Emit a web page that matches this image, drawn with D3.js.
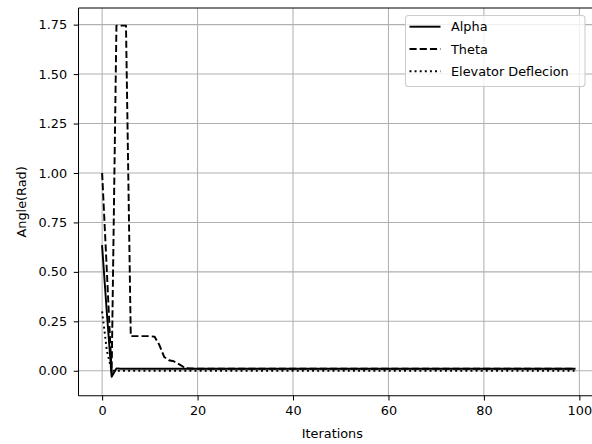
<!DOCTYPE html>
<html>
<head>
<meta charset="utf-8">
<script src="https://cdn.jsdelivr.net/npm/d3@7"></script>
<style>
  html, body { margin: 0; padding: 0; background: #fff; }
  svg { display: block; font-family: "DejaVu Sans", sans-serif; }
</style>
</head>
<body>
<svg id="chart" width="592" height="444"></svg>
<script>
// Angle of attack over the iterations
const alpha = [
  0.63, 0.29, -0.03, 0.012, 0.01, 0.01, 0.01, 0.01, 0.01, 0.01,
  0.01, 0.01, 0.01, 0.01, 0.01, 0.01, 0.01, 0.01, 0.01, 0.01,
  0.01, 0.01, 0.01, 0.01, 0.01, 0.01, 0.01, 0.01, 0.01, 0.01,
  0.01, 0.01, 0.01, 0.01, 0.01, 0.01, 0.01, 0.01, 0.01, 0.01,
  0.01, 0.01, 0.01, 0.01, 0.01, 0.01, 0.01, 0.01, 0.01, 0.01,
  0.01, 0.01, 0.01, 0.01, 0.01, 0.01, 0.01, 0.01, 0.01, 0.01,
  0.01, 0.01, 0.01, 0.01, 0.01, 0.01, 0.01, 0.01, 0.01, 0.01,
  0.01, 0.01, 0.01, 0.01, 0.01, 0.01, 0.01, 0.01, 0.01, 0.01,
  0.01, 0.01, 0.01, 0.01, 0.01, 0.01, 0.01, 0.01, 0.01, 0.01,
  0.01, 0.01, 0.01, 0.01, 0.01, 0.01, 0.01, 0.01, 0.01, 0.01
];

// Pitch angle over the iterations
const theta = [
  1.0, 0.5, -0.01, 1.745, 1.745, 1.745, 0.175, 0.175, 0.175, 0.175,
  0.175, 0.172, 0.13, 0.07, 0.053, 0.048, 0.035, 0.02, 0.013, 0.011,
  0.01, 0.01, 0.01, 0.01, 0.01, 0.01, 0.01, 0.01, 0.01, 0.01,
  0.01, 0.01, 0.01, 0.01, 0.01, 0.01, 0.01, 0.01, 0.01, 0.01,
  0.01, 0.01, 0.01, 0.01, 0.01, 0.01, 0.01, 0.01, 0.01, 0.01,
  0.01, 0.01, 0.01, 0.01, 0.01, 0.01, 0.01, 0.01, 0.01, 0.01,
  0.01, 0.01, 0.01, 0.01, 0.01, 0.01, 0.01, 0.01, 0.01, 0.01,
  0.01, 0.01, 0.01, 0.01, 0.01, 0.01, 0.01, 0.01, 0.01, 0.01,
  0.01, 0.01, 0.01, 0.01, 0.01, 0.01, 0.01, 0.01, 0.01, 0.01,
  0.01, 0.01, 0.01, 0.01, 0.01, 0.01, 0.01, 0.01, 0.01, 0.01
];

// Elevator deflection over the iterations
const elevator = [
  0.3, 0.1, 0, 0, 0, 0, 0, 0, 0, 0,
  0, 0, 0, 0, 0, 0, 0, 0, 0, 0,
  0, 0, 0, 0, 0, 0, 0, 0, 0, 0,
  0, 0, 0, 0, 0, 0, 0, 0, 0, 0,
  0, 0, 0, 0, 0, 0, 0, 0, 0, 0,
  0, 0, 0, 0, 0, 0, 0, 0, 0, 0,
  0, 0, 0, 0, 0, 0, 0, 0, 0, 0,
  0, 0, 0, 0, 0, 0, 0, 0, 0, 0,
  0, 0, 0, 0, 0, 0, 0, 0, 0, 0,
  0, 0, 0, 0, 0, 0, 0, 0, 0, 0
];

const seriesNames = ["Alpha", "Theta", "Elevator Deflecion"];
const xTicks = [0, 20, 40, 60, 80, 100];
const yTicks = [0.00, 0.25, 0.50, 0.75, 1.00, 1.25, 1.50, 1.75];

(function draw() {
  const svg = d3.select("#chart");
  const fontSize = 12.85;
  const lw = 1.93;

  // plot area
  const pL = 78.5, pR = 598.2, pT = 8, pB = 395.7;

  const nPts = alpha.length;
  const xMin = 0, xMax = nPts - 1;
  const xPad = (xMax - xMin) * 0.05;
  const x = d3.scaleLinear().domain([xMin - xPad, xMax + xPad]).range([pL, pR]);

  // y domain with 5% margins around the data, as in the plotted range
  const yLo = -0.037, yHi = 1.745;
  const yPad = (yHi - yLo) * 0.05;
  const y = d3.scaleLinear().domain([yLo - yPad, yHi + yPad]).range([pB, pT]);

  // grid
  const grid = svg.append("g");
  grid.selectAll("line.gx").data(xTicks).join("line").attr("class", "gx")
    .attr("x1", d => x(d)).attr("x2", d => x(d))
    .attr("y1", pT).attr("y2", pB)
    .attr("stroke", "#b0b0b0").attr("stroke-width", 1.03);
  grid.selectAll("line.gy").data(yTicks).join("line").attr("class", "gy")
    .attr("x1", pL).attr("x2", pR)
    .attr("y1", d => y(d)).attr("y2", d => y(d))
    .attr("stroke", "#b0b0b0").attr("stroke-width", 1.03);

  // series lines
  const series = [
    { name: seriesNames[0], values: alpha, dash: null },
    { name: seriesNames[1], values: theta, dash: "7.13,3.08" },
    { name: seriesNames[2], values: elevator, dash: "1.93,3.18" }
  ];
  const line = d3.line().x((d, i) => x(i)).y(d => y(d));

  svg.append("clipPath").attr("id", "plotclip")
    .append("rect").attr("x", pL).attr("y", pT)
    .attr("width", pR - pL).attr("height", pB - pT);

  const lines = svg.append("g").attr("clip-path", "url(#plotclip)");
  series.forEach(s => {
    lines.append("path")
      .datum(s.values)
      .attr("d", line)
      .attr("fill", "none")
      .attr("stroke", "#000")
      .attr("stroke-width", lw)
      .attr("stroke-linejoin", "round")
      .attr("stroke-linecap", s.dash ? "butt" : "square")
      .attr("stroke-dasharray", s.dash);
  });

  // axes
  const xAxis = d3.axisBottom(x).tickValues(xTicks).tickFormat(d3.format("d"))
    .tickSize(4.8).tickPadding(5.5);
  const yAxis = d3.axisLeft(y).tickValues(yTicks).tickFormat(d3.format(".2f"))
    .tickSize(4.8).tickPadding(6.5);

  const gx = svg.append("g").attr("transform", `translate(0,${pB})`).call(xAxis);
  const gy = svg.append("g").attr("transform", `translate(${pL},0)`).call(yAxis);
  [gx, gy].forEach(g => {
    g.select(".domain").remove();
    g.selectAll(".tick line").attr("stroke", "#000").attr("stroke-width", 1.03);
    g.selectAll(".tick text").attr("fill", "#000")
      .style("font-size", fontSize + "px")
      .style("font-family", "'DejaVu Sans', sans-serif");
  });

  // frame
  const spines = svg.append("g").attr("stroke", "#000").attr("stroke-width", 1.03).attr("fill", "none");
  spines.append("line").attr("x1", pL).attr("x2", pL).attr("y1", pT).attr("y2", pB);
  spines.append("line").attr("x1", pL).attr("x2", pR).attr("y1", pB).attr("y2", pB);
  spines.append("line").attr("x1", pL).attr("x2", pR).attr("y1", pT).attr("y2", pT);
  spines.append("line").attr("x1", pR).attr("x2", pR).attr("y1", pT).attr("y2", pB);

  // axis titles
  svg.append("text")
    .attr("x", (pL + pR) / 2 - 6).attr("y", 438)
    .attr("text-anchor", "middle")
    .style("font-size", fontSize + "px")
    .text("Iterations");
  svg.append("text")
    .attr("transform", `translate(26,${(pT + pB) / 2}) rotate(-90)`)
    .attr("text-anchor", "middle")
    .style("font-size", fontSize + "px")
    .text("Angle(Rad)");

  // legend
  const lg = svg.append("g");
  const lgX = 405, lgY = 15, lgW = 179.5, lgH = 71;
  lg.append("rect")
    .attr("x", lgX + 0.5).attr("y", lgY + 0.5)
    .attr("width", lgW).attr("height", lgH)
    .attr("rx", 3).attr("ry", 3)
    .attr("fill", "#fff").attr("fill-opacity", 0.8)
    .attr("stroke", "#cccccc").attr("stroke-width", 1.03);
  series.forEach((s, i) => {
    const cy = 26.7 + i * 22.3;
    lg.append("line")
      .attr("x1", 409.5).attr("x2", 440.5)
      .attr("y1", cy).attr("y2", cy)
      .attr("stroke", "#000").attr("stroke-width", lw)
      .attr("stroke-dasharray", s.dash);
    lg.append("text")
      .attr("x", 451).attr("y", cy)
      .attr("dy", "0.36em")
      .style("font-size", fontSize + "px")
      .text(s.name);
  });
})();
</script>
</body>
</html>
